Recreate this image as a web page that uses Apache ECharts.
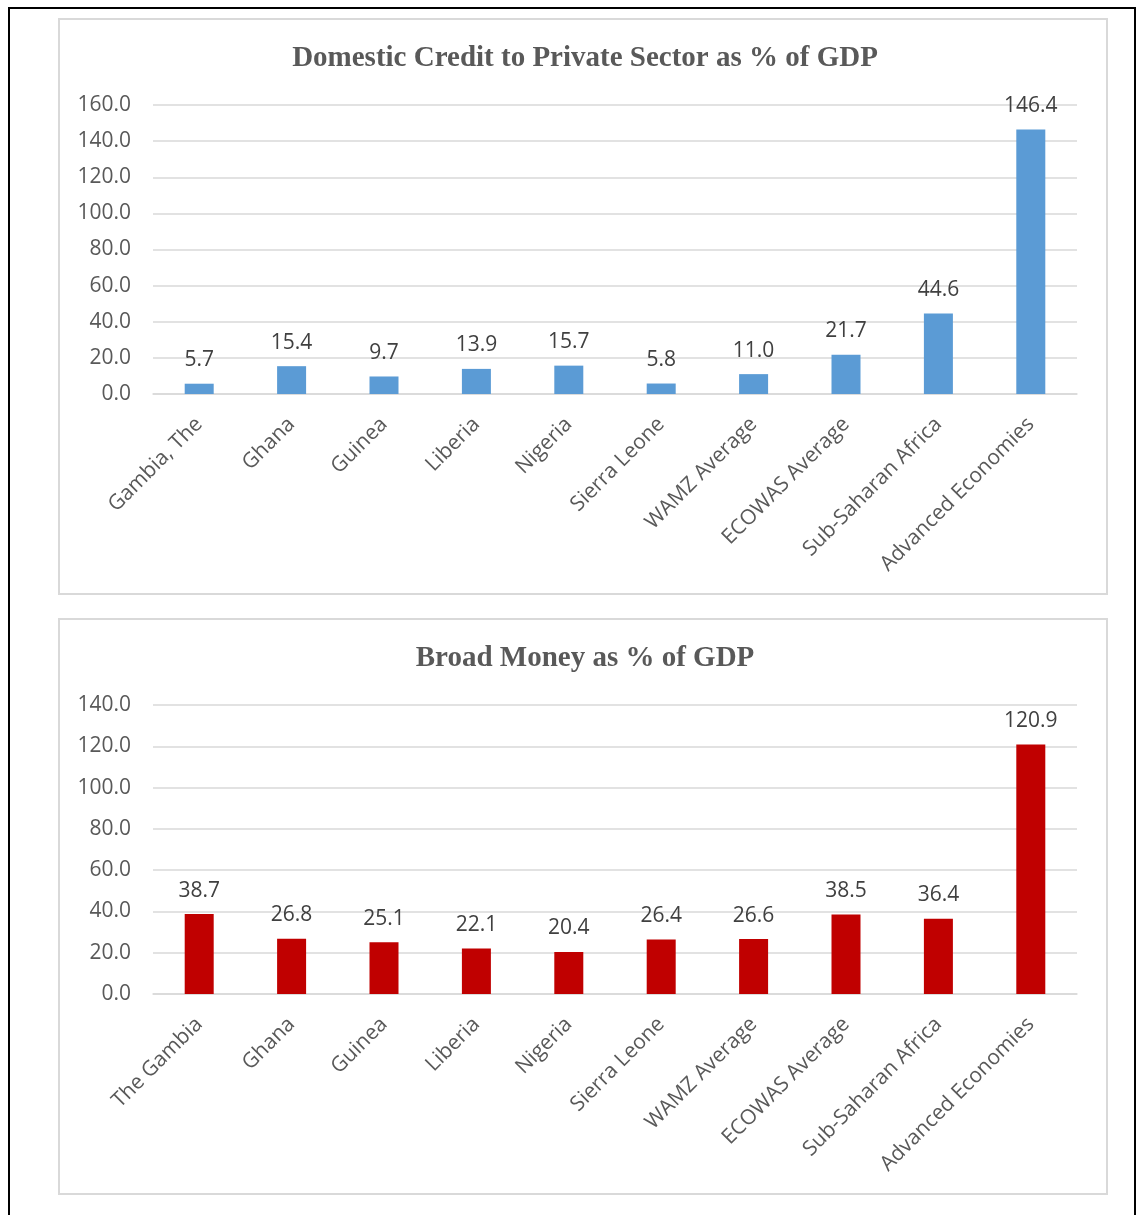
<!DOCTYPE html>
<html>
<head>
<meta charset="utf-8">
<style>
  html, body { margin: 0; padding: 0; background: #ffffff; }
  #chart { width: 1136px; height: 1215px; }
</style>
<script src="https://cdn.jsdelivr.net/npm/echarts@6/dist/echarts.min.js"></script>
</head>
<body>
<div id="chart"></div>
<script>
// Domestic credit to private sector (% of GDP)
const creditCategories = ["Gambia, The", "Ghana", "Guinea", "Liberia", "Nigeria", "Sierra Leone",
  "WAMZ Average", "ECOWAS Average", "Sub-Saharan Africa", "Advanced Economies"];
const creditValues = [5.7, 15.4, 9.7, 13.9, 15.7, 5.8, 11.0, 21.7, 44.6, 146.4];

// Broad money (% of GDP)
const moneyCategories = ["The Gambia", "Ghana", "Guinea", "Liberia", "Nigeria", "Sierra Leone",
  "WAMZ Average", "ECOWAS Average", "Sub-Saharan Africa", "Advanced Economies"];
const moneyValues = [38.7, 26.8, 25.1, 22.1, 20.4, 26.4, 26.6, 38.5, 36.4, 120.9];

const titles = ["Domestic Credit to Private Sector as % of GDP", "Broad Money as % of GDP"];

const LABEL_FONT = "'Open Sans', 'Liberation Sans', sans-serif";
const TITLE_FONT = "'Liberation Serif', 'Times New Roman', serif";

function yAxis(gridIndex, max) {
  return {
    type: 'value', gridIndex: gridIndex, min: 0, max: max, interval: 20,
    axisLine: { show: false }, axisTick: { show: false },
    axisLabel: {
      formatter: v => v.toFixed(1), color: '#595959', fontSize: 21,
      fontFamily: LABEL_FONT, margin: 22
    },
    splitLine: { lineStyle: { color: '#d9d9d9', width: 1.5 } }
  };
}

function xAxis(gridIndex, cats) {
  return {
    type: 'category', gridIndex: gridIndex, data: cats,
    axisLine: { lineStyle: { color: '#d9d9d9', width: 1.5 } },
    axisTick: { show: false },
    axisLabel: {
      rotate: 45, interval: 0, color: '#595959', fontSize: 21,
      fontFamily: LABEL_FONT, margin: 27
    }
  };
}

function barSeries(idx, values, color) {
  return {
    type: 'bar', xAxisIndex: idx, yAxisIndex: idx, data: values, barWidth: 29,
    itemStyle: { color: color },
    label: {
      show: true, position: 'top', distance: 13, color: '#404040', fontSize: 21,
      fontFamily: LABEL_FONT, formatter: p => p.value.toFixed(1)
    }
  };
}

const chart = echarts.init(document.getElementById('chart'), null, { renderer: 'canvas' });
chart.setOption({
  animation: false,
  backgroundColor: '#ffffff',
  title: titles.map((t, i) => ({
    text: t, left: 580, textAlign: 'center', top: i === 0 ? 39 : 639,
    textStyle: { fontFamily: TITLE_FONT, fontWeight: 'bold', fontSize: 29, color: '#595959' }
  })),
  grid: [
    { left: 153, width: 924, top: 105, height: 289 },
    { left: 153, width: 924, top: 705, height: 289 }
  ],
  xAxis: [xAxis(0, creditCategories), xAxis(1, moneyCategories)],
  yAxis: [yAxis(0, 160), yAxis(1, 140)],
  series: [barSeries(0, creditValues, '#5b9bd5'), barSeries(1, moneyValues, '#c00000')],
  graphic: [
    { type: 'polyline', shape: { points: [[9, 1215], [9, 8], [1135, 8], [1135, 1215]] },
      style: { stroke: '#000000', lineWidth: 2, fill: null }, silent: true },
    { type: 'rect', shape: { x: 59, y: 19, width: 1048, height: 575 },
      style: { stroke: '#d9d9d9', lineWidth: 2, fill: null }, silent: true },
    { type: 'rect', shape: { x: 59, y: 619, width: 1048, height: 575 },
      style: { stroke: '#d9d9d9', lineWidth: 2, fill: null }, silent: true }
  ]
});
</script>
</body>
</html>
